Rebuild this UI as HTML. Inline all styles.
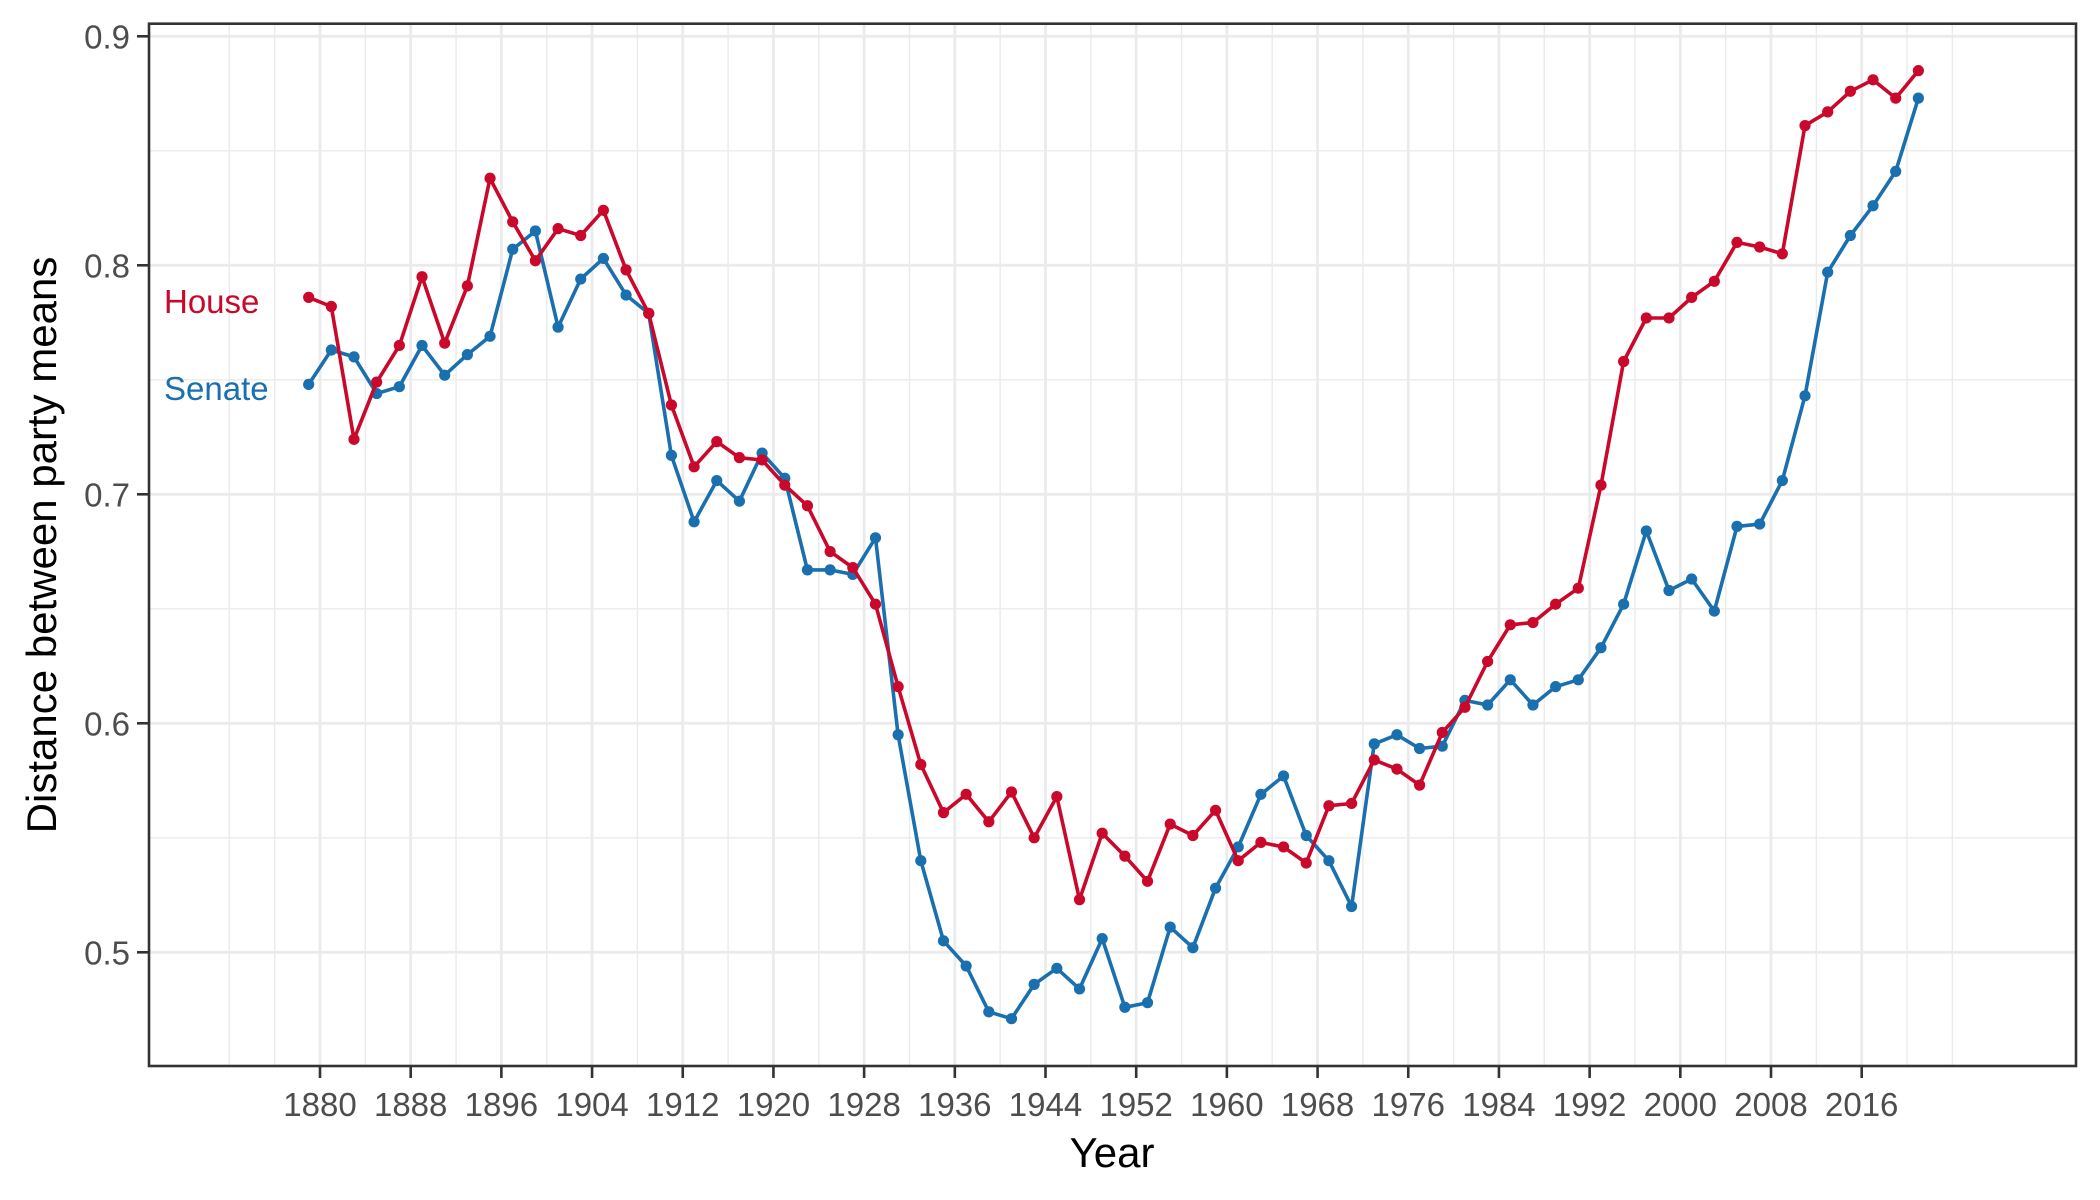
<!DOCTYPE html>
<html><head><meta charset="utf-8"><style>
html,body{margin:0;padding:0;background:#fff;}
svg{display:block;font-family:"Liberation Sans",Arial,sans-serif;}
</style></head><body>
<svg id="chart" width="2100" height="1200" viewBox="0 0 2100 1200">
<g id="grid"></g>
<g id="series"></g>
<rect x="149" y="23.7" width="1927" height="1042.3" fill="none" stroke="#333" stroke-width="2.6"/>
<g id="axes"></g>
<text x="164" y="313" font-size="33" fill="#c9082b">House</text>
<text x="164" y="400" font-size="33" fill="#1a6fae">Senate</text>
<text x="1112" y="1167" font-size="42" fill="#000" text-anchor="middle">Year</text>
<text transform="translate(56,545) rotate(-90)" font-size="42" fill="#000" text-anchor="middle">Distance between party means</text>
</svg>
<script>
const years = [];
for (let y = 1879; y <= 2021; y += 2) years.push(y);
const houseValues = [0.786,0.782,0.724,0.749,0.765,0.795,0.766,0.791,0.838,0.819,0.802,0.816,0.813,0.824,0.798,0.779,0.739,0.712,0.723,0.716,0.715,0.704,0.695,0.675,0.668,0.652,0.616,0.582,0.561,0.569,0.557,0.570,0.550,0.568,0.523,0.552,0.542,0.531,0.556,0.551,0.562,0.540,0.548,0.546,0.539,0.564,0.565,0.584,0.580,0.573,0.596,0.607,0.627,0.643,0.644,0.652,0.659,0.704,0.758,0.777,0.777,0.786,0.793,0.810,0.808,0.805,0.861,0.867,0.876,0.881,0.873,0.885];
const senateValues = [0.748,0.763,0.760,0.744,0.747,0.765,0.752,0.761,0.769,0.807,0.815,0.773,0.794,0.803,0.787,0.779,0.717,0.688,0.706,0.697,0.718,0.707,0.667,0.667,0.665,0.681,0.595,0.540,0.505,0.494,0.474,0.471,0.486,0.493,0.484,0.506,0.476,0.478,0.511,0.502,0.528,0.546,0.569,0.577,0.551,0.540,0.520,0.591,0.595,0.589,0.590,0.610,0.608,0.619,0.608,0.616,0.619,0.633,0.652,0.684,0.658,0.663,0.649,0.686,0.687,0.706,0.743,0.797,0.813,0.826,0.841,0.873];
const xTicks = [1880,1888,1896,1904,1912,1920,1928,1936,1944,1952,1960,1968,1976,1984,1992,2000,2008,2016];
const xMinor = [1872,1876,1884,1892,1900,1908,1916,1924,1932,1940,1948,1956,1964,1972,1980,1988,1996,2004,2012,2020,2024];
const yTicks = [0.5,0.6,0.7,0.8,0.9];
const yTickLabels = ["0.5","0.6","0.7","0.8","0.9"];
const yMinor = [0.55,0.65,0.75,0.85];

const X0 = 149, X1 = 2076, Y0 = 23.7, Y1 = 1066;
const xScale = y => 320 + (y - 1880) * 11.336;
const yScale = v => 36.3 + (0.9 - v) * 2290;
const NS = "http://www.w3.org/2000/svg";
function mk(tag, attrs, parent) {
  const e = document.createElementNS(NS, tag);
  for (const k in attrs) e.setAttribute(k, attrs[k]);
  parent.appendChild(e);
  return e;
}
const grid = document.getElementById('grid');
const axes = document.getElementById('axes');
const series = document.getElementById('series');

yMinor.forEach(v => {
  const l = mk('line', {x1: X0, x2: X1, y1: yScale(v), y2: yScale(v), stroke: '#ebebeb', 'stroke-width': 1.4}, grid);
  
  
});
xMinor.forEach(v => {
  const l = mk('line', {x1: xScale(v), x2: xScale(v), y1: Y0, y2: Y1, stroke: '#ebebeb', 'stroke-width': 1.4}, grid);
  
  
});
yTicks.forEach((v, i) => {
  const l = mk('line', {x1: X0, x2: X1, y1: yScale(v), y2: yScale(v), stroke: '#ebebeb', 'stroke-width': 2.8}, grid);
  
  
  const t = mk('line', {x1: X0 - 12, x2: X0, y1: yScale(v), y2: yScale(v), stroke: '#333', 'stroke-width': 2.6}, axes);
  
  
  const tx = mk('text', {x: X0 - 19, y: yScale(v) + 12, 'font-size': 33, fill: '#4d4d4d', 'text-anchor': 'end'}, axes);
  tx.textContent = yTickLabels[i];
  
  
});
xTicks.forEach(v => {
  const l = mk('line', {x1: xScale(v), x2: xScale(v), y1: Y0, y2: Y1, stroke: '#ebebeb', 'stroke-width': 2.8}, grid);
  
  
  const t = mk('line', {x1: xScale(v), x2: xScale(v), y1: Y1, y2: Y1 + 12, stroke: '#333', 'stroke-width': 2.6}, axes);
  
  
  const tx = mk('text', {x: xScale(v), y: Y1 + 50, 'font-size': 33, fill: '#4d4d4d', 'text-anchor': 'middle'}, axes);
  tx.textContent = String(v);
  
  
});

function drawSeries(vals, color, name) {
  const g = mk('g', {}, series);
  
  
  const pts = vals.map((v, i) => xScale(years[i]).toFixed(1) + ',' + yScale(v).toFixed(1)).join(' ');
  const pl = mk('polyline', {points: pts, fill: 'none', stroke: color, 'stroke-width': 3.6, 'stroke-linejoin': 'round'}, g);
  
  
  vals.forEach((v, i) => {
    const c = mk('circle', {cx: xScale(years[i]), cy: yScale(v), r: 5.6, fill: color}, g);
    
    
  });
}
drawSeries(senateValues, '#1a6fae', 'senate');
drawSeries(houseValues, '#c9082b', 'house');
</script>
</body></html>
